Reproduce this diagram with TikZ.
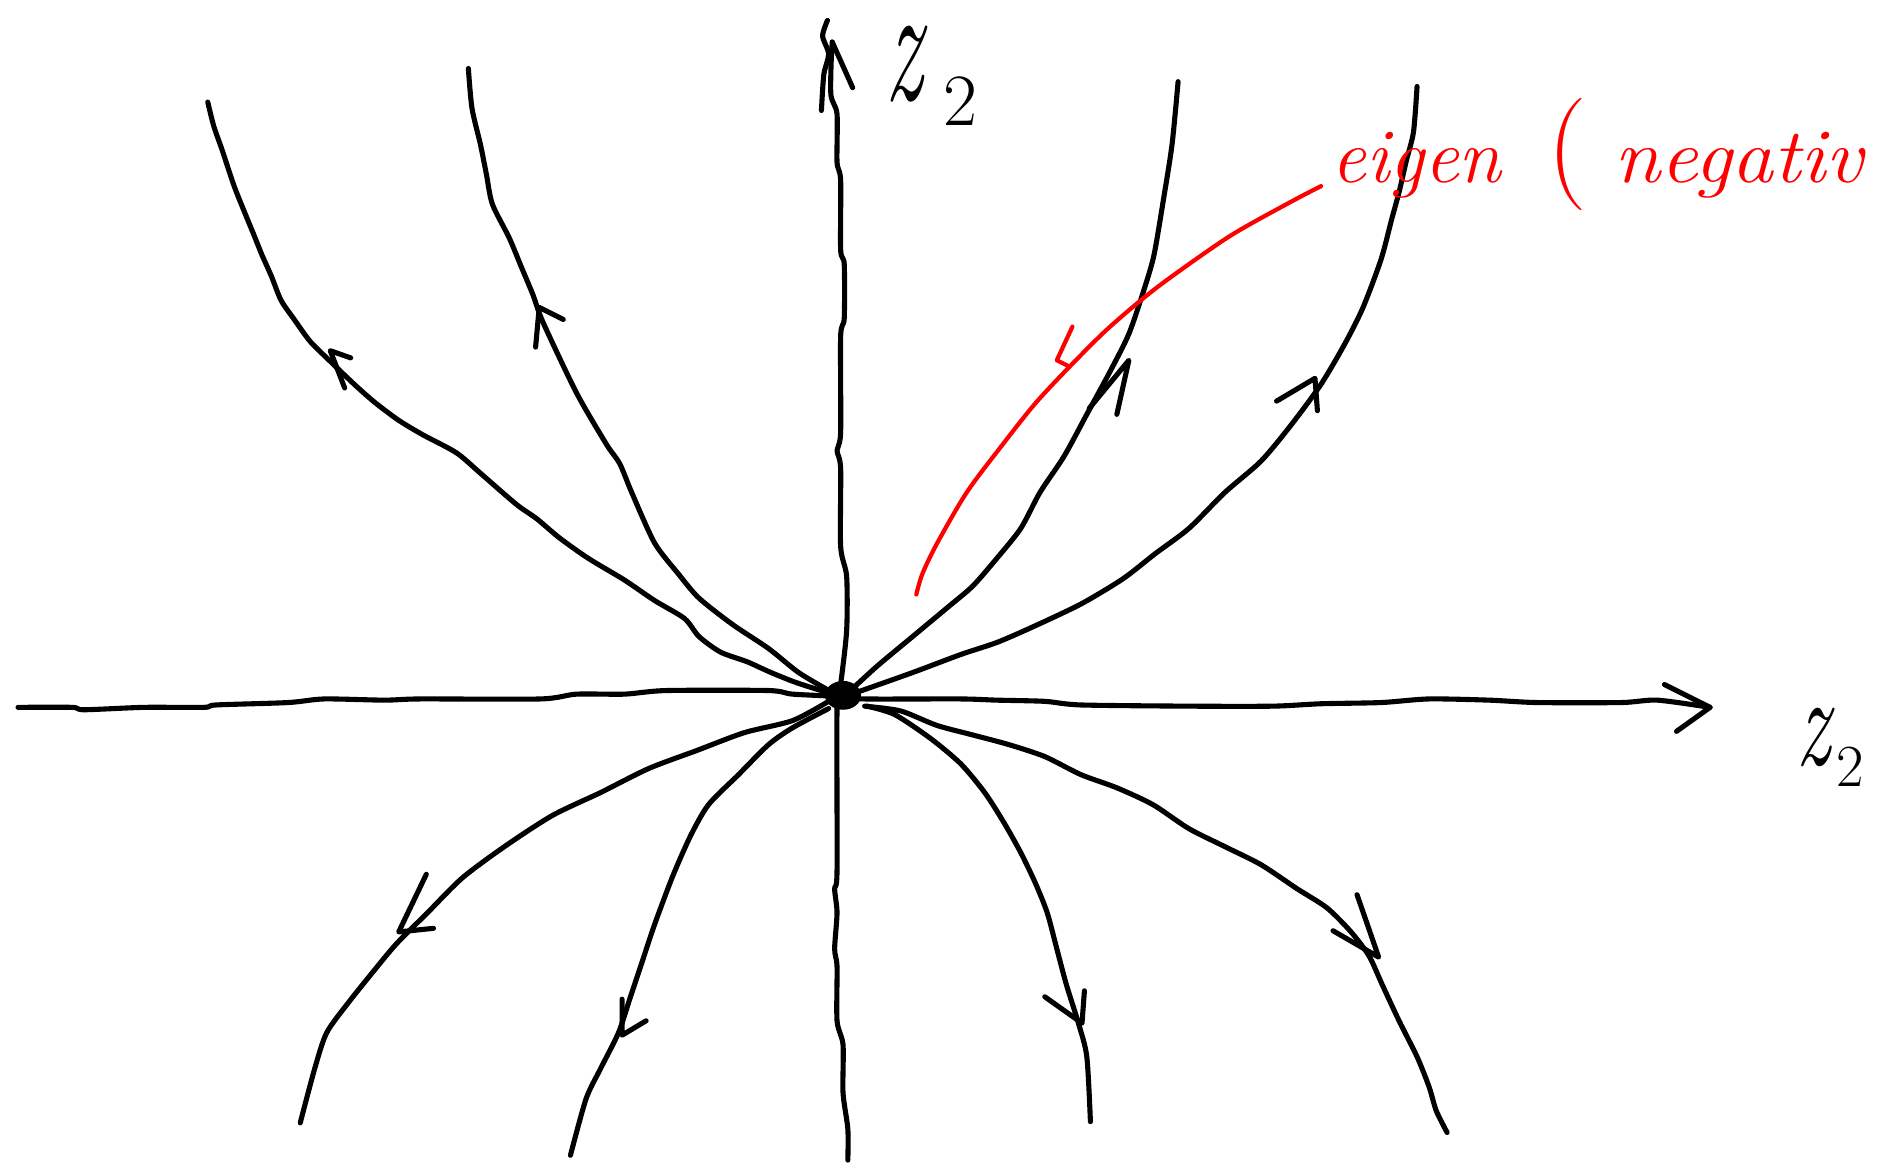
\documentclass[tikz,border=0pt]{standalone}
\usepackage{tikz}
\usepackage{graphicx}
\definecolor{penred}{RGB}{255,0,0}
\tikzset{
  ink/.style={line width=1.45pt, line cap=round, line join=round, black},
  redink/.style={line width=1.2pt, line cap=round, line join=round, penred},
  traj/.style={ink, smooth, tension=0.45},
}
\begin{document}
\begin{tikzpicture}[x=0.012009cm, y=-0.012009cm]
\useasboundingbox (0,0) rectangle (1568,968);
\fill[white] (0,0) rectangle (1568,968);
\clip (0,0) rectangle (1568,968);
\coordinate (O) at (702,579);

% horizontal axis
\draw[traj] plot coordinates {(15,589) (60,589) (70,591) (120,589) (170,589) (180,587) (240,585) (270,582) (320,583) (350,582) (450,582) (480,578) (520,578) (555,575) (640,575) (660,578) (700,580) (720,582) (800,582) (830,583) (870,584) (900,587) (990,588) (1060,588) (1100,586) (1150,585) (1190,582) (1240,583) (1280,585) (1350,585) (1380,583) (1424,589)};
\draw[ink] (1386,570) -- (1424,589) -- (1396,609);

% vertical axis
\draw[traj] plot coordinates {(706,966) (706,940) (702,910) (702,870) (697,850) (697,805) (695,790) (697,760) (695,740) (697,725) (697,590) (700,570) (705,525) (705,480) (700,455) (700,390) (697,375) (700,360) (700,280) (703,265) (703,220) (700,208) (700,150) (697,135) (697,95) (692,80) (692,55) (693,35)};
\draw[ink] (693,35) -- (710,73);
\draw[traj] plot coordinates {(689,17) (685,30) (690,45) (686,62) (684,92)};

% central blob
\fill (O) ellipse [x radius=15, y radius=12];

% trajectory A (upper left, far)
\draw[traj] plot coordinates {(173,85) (178,105) (185,125) (195,155) (205,180) (212,197) (218,212) (226,230) (234,250) (245,266) (258,284) (272,298) (295,320) (312,335) (332,350) (352,362) (380,377) (400,394) (430,420) (447,432) (466,448) (490,465) (520,483) (545,500) (570,515) (582,530) (600,543) (622,551) (642,560) (662,568) (684,575) (700,578)};
\draw[ink] (292,298) -- (275,292) -- (287,323);

% trajectory B (upper left, steep)
\draw[traj] plot coordinates {(390,57) (393,90) (400,120) (405,145) (410,170) (424,198) (434,222) (444,246) (452,268) (480,327) (505,370) (516,386) (526,410) (545,452) (565,478) (582,498) (610,520) (640,540) (665,560) (692,576)};
\draw[ink] (446,289) -- (449,256) -- (469,266);

% trajectory C (upper right, steep)
\draw[traj] plot coordinates {(705,578) (730,555) (760,530) (790,505) (810,488) (830,465) (850,440) (866,410) (886,380) (905,345) (924,310) (940,278) (953,240) (961,212) (969,165) (976,120) (981,68)};
\draw[ink] (907,340) -- (940,300) -- (930,345);

% trajectory D (upper right, far)
\draw[traj] plot coordinates {(712,577) (760,560) (800,545) (830,535) (860,522) (900,503) (935,482) (962,461) (990,440) (1020,410) (1050,384) (1075,354) (1100,320) (1120,286) (1135,256) (1150,216) (1159,182) (1165,160) (1171,134) (1177,110) (1180,72)};
\draw[ink] (1063,334) -- (1095,315) -- (1097,342);

% trajectory E (lower right, far)
\draw[traj] plot coordinates {(720,588) (750,592) (780,604) (810,612) (840,620) (870,630) (900,645) (930,656) (960,670) (990,690) (1020,705) (1050,720) (1080,740) (1105,756) (1125,776) (1140,796) (1151,820) (1165,850) (1180,880) (1190,905) (1196,925) (1205,943)};
\draw[ink] (1130,745) -- (1148,797) -- (1110,775);

% trajectory F (lower right, steep)
\draw[traj] plot coordinates {(722,588) (745,595) (775,615) (800,636) (820,660) (836,685) (850,710) (862,735) (872,760) (880,790) (888,820) (898,852) (905,880) (908,934)};
\draw[ink] (903,825) -- (901,852) -- (870,830);

% trajectory G (lower left, steep)
\draw[traj] plot coordinates {(690,590) (660,606) (640,620) (615,645) (590,670) (575,696) (560,730) (545,770) (535,800) (525,830) (515,860) (500,890) (488,915) (475,962)};
\draw[ink] (518,832) -- (518,862) -- (538,850);

% trajectory H (lower left, far)
\draw[traj] plot coordinates {(690,584) (660,600) (620,610) (580,625) (540,640) (500,660) (460,679) (420,705) (385,731) (356,760) (330,786) (310,810) (290,835) (272,860) (262,890) (250,935)};
\draw[ink] (355,728) -- (332,776) -- (361,773);

% red eigen-direction curve
\draw[redink, smooth, tension=0.5] plot coordinates {(763,495) (768,478) (780,453) (805,410) (835,370) (862,336) (890,306) (920,276) (950,250) (976,230) (1025,196) (1075,168) (1100,155)};
\draw[redink] (893,272) -- (880,300) -- (890,305);

% labels
\node[anchor=base west, inner sep=0pt] (lz2) at (737,84)
  {\scalebox{0.55}[1]{\fontsize{48}{48}\selectfont\itshape z}\hspace{6pt}\raisebox{-7pt}{\fontsize{21}{21}\selectfont 2}};
\node[anchor=base west, inner sep=0pt] (lz1) at (1495,637)
  {\scalebox{0.65}[1]{\fontsize{37}{37}\selectfont\itshape z}\hspace{2pt}\raisebox{-6pt}{\fontsize{17}{17}\selectfont 2}};
\node[anchor=base west, inner sep=0pt, text=penred] (eig) at (1108,152)
  {\fontsize{22}{24}\selectfont\itshape eigen\hspace{0.6em}{\upshape\fontsize{32}{36}\selectfont(}\hspace{0.35em}\scalebox{1.08}[1]{negativ}};
\end{tikzpicture}
\end{document}
